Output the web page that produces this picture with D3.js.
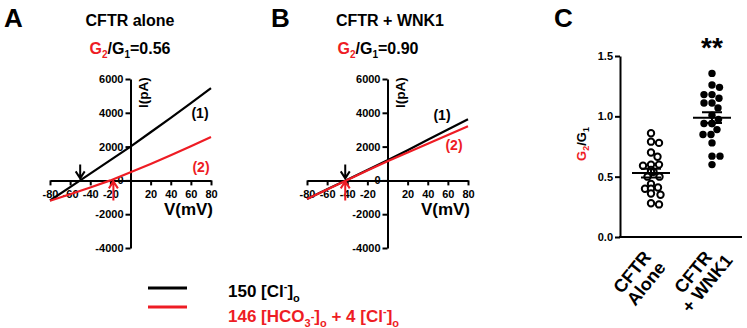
<!DOCTYPE html>
<html>
<head>
<meta charset="utf-8">
<script src="https://cdn.jsdelivr.net/npm/d3@7"></script>
<style>
  body { margin: 0; background: #fff; }
  svg { font-family: "Liberation Sans", Arial, sans-serif; font-weight: bold; }
</style>
</head>
<body>
<svg id="chart" width="747" height="328"></svg>
<script>
// voltage steps (mV) and currents (pA)
var voltage = [-80, -60, -40, -20, 0, 20, 40, 60, 80];
var aloneCl = [-1190, -400, 400, 1200, 2000, 2850, 3700, 4570, 5460];
var aloneHCO3 = [-1200, -820, -420, 0, 480, 970, 1490, 2020, 2570];
var wnkCl = [-1100, -530, 40, 620, 1190, 1790, 2400, 3010, 3620];
var wnkHCO3 = [-1100, -540, 20, 580, 1130, 1650, 2170, 2690, 3200];
// reversal potentials marked by arrows [black, red]
var revAlone = [-50, -17];
var revWNK = [-42, -42];

var ivYTicks = [-4000, -2000, 0, 2000, 4000, 6000];
var ivXTicks = [-80, -60, -40, -20, 20, 40, 60, 80];

// G2/G1 scatter
var categories = [["CFTR", "Alone"], ["CFTR", "+ WNK1"]];
var ratioAlone = [0.86, 0.79, 0.78, 0.70, 0.665, 0.60, 0.59, 0.60, 0.555, 0.54, 0.54,
                  0.50, 0.50, 0.44, 0.40, 0.41, 0.40, 0.35, 0.36, 0.27, 0.28];
var ratioWNK = [1.356, 1.24, 1.26, 1.18, 1.15, 1.18, 1.11, 1.11, 1.07, 1.01, 0.975,
                0.94, 0.94, 0.94, 0.89, 0.85, 0.85, 0.78, 0.67, 0.67, 0.60];
var ratioTicks = [0, 0.5, 1.0, 1.5];

var RED = "#ee1c24";
var svg = d3.select("#chart");

function boldText(g, x, y, size, txt, color, anchor) {
  return g.append("text").attr("x", x).attr("y", y)
    .attr("font-size", size).attr("fill", color || "#000")
    .attr("text-anchor", anchor || "start").text(txt);
}

function ratioTitle(x, y, val) {
  var t = svg.append("text").attr("x", x).attr("y", y)
    .attr("font-size", 16).attr("text-anchor", "middle");
  t.append("tspan").attr("fill", RED).text("G");
  t.append("tspan").attr("fill", RED).attr("font-size", 10).attr("dy", 4).text("2");
  t.append("tspan").attr("dy", -4).text("/G");
  t.append("tspan").attr("font-size", 10).attr("dy", 4).text("1");
  t.append("tspan").attr("dy", -4).text("=" + val);
}

function arrow(g, x, y0, y1, color) {
  // shaft from y0 to tip y1, open chevron head
  var dir = y1 > y0 ? -1 : 1;
  g.append("path")
    .attr("d", "M" + x + "," + y0 + "L" + x + "," + y1 +
      "M" + (x - 4.5) + "," + (y1 + dir * 7) + "L" + x + "," + y1 + "L" + (x + 4.5) + "," + (y1 + dir * 7))
    .attr("fill", "none").attr("stroke", color).attr("stroke-width", 2);
}

function styleAxis(a, size) {
  a.select(".domain").attr("stroke-width", 2);
  a.selectAll(".tick line").attr("stroke-width", 2);
  a.selectAll(".tick text").attr("font-size", size).attr("font-family", null).attr("fill", "#000");
}

function drawIV(opt) {
  var x = d3.scaleLinear().domain([-80, 80]).range(opt.xr);
  var y = d3.scaleLinear().domain([-4000, 6000]).range([248, 79]);
  var g = svg.append("g");

  var yAxis = d3.axisLeft(y).tickValues(ivYTicks).tickSize(5).tickSizeOuter(0).tickPadding(2)
    .tickFormat(function (d) { return String(d); });
  var ya = g.append("g").attr("transform", "translate(" + x(0) + ",0)").call(yAxis);
  var xAxis = d3.axisBottom(x).tickValues(ivXTicks).tickSize(5).tickSizeOuter(0).tickPadding(5)
    .tickFormat(function (d) { return String(d); });
  var xa = g.append("g").attr("transform", "translate(0," + y(0) + ")").call(xAxis);
  styleAxis(ya, 11);
  styleAxis(xa, 11);

  var line = d3.line().x(function (d, i) { return x(voltage[i]); }).y(function (d) { return y(d); });
  g.append("path").datum(opt.cl).attr("d", line)
    .attr("fill", "none").attr("stroke", "#000").attr("stroke-width", 2.2);
  g.append("path").datum(opt.hco3).attr("d", line)
    .attr("fill", "none").attr("stroke", RED).attr("stroke-width", 2.2);

  arrow(g, x(opt.rev[0]), y(0) - 16, y(0) - 2, "#000");
  arrow(g, x(opt.rev[1]), y(0) + 20, y(0) + 1, RED);

  g.append("text").attr("transform", "translate(" + (x(0) + 17) + ",108) rotate(-90)")
    .attr("font-size", 13.5).text("I(pA)");
  boldText(g, x(80) + 2, 215, 17, "V(mV)", "#000", "end");
  boldText(g, opt.l1[0], opt.l1[1], 14, "(1)", "#000", "middle");
  boldText(g, opt.l2[0], opt.l2[1], 14, "(2)", RED, "middle");
}

// panel A
boldText(svg, 4, 27, 26, "A");
boldText(svg, 130, 26, 16, "CFTR alone", "#000", "middle");
ratioTitle(130, 54, "0.56");
drawIV({ xr: [50, 211], cl: aloneCl, hco3: aloneHCO3, rev: revAlone, l1: [200, 118], l2: [201, 172] });

// panel B
boldText(svg, 271, 27, 26, "B");
boldText(svg, 390, 26, 16, "CFTR + WNK1", "#000", "middle");
ratioTitle(378, 54, "0.90");
drawIV({ xr: [307, 468], cl: wnkCl, hco3: wnkHCO3, rev: revWNK, l1: [442, 120], l2: [454, 150] });

// panel C
boldText(svg, 554, 27, 26, "C");
var cx = d3.scalePoint().domain([0, 1]).range([651, 712]);
var cy = d3.scaleLinear().domain([0, 1.5]).range([237, 56]);
var gc = svg.append("g");
var cya = gc.append("g").attr("transform", "translate(620,0)")
  .call(d3.axisLeft(cy).tickValues(ratioTicks).tickSize(5).tickSizeOuter(0).tickPadding(2)
    .tickFormat(d3.format(".1f")));
styleAxis(cya, 11);
gc.append("line").attr("x1", 619).attr("x2", 742).attr("y1", cy(0)).attr("y2", cy(0))
  .attr("stroke", "#000").attr("stroke-width", 2);

var yl = gc.append("text").attr("transform", "translate(586,144) rotate(-90)")
  .attr("font-size", 13).attr("text-anchor", "middle");
yl.append("tspan").attr("fill", RED).text("G");
yl.append("tspan").attr("fill", RED).attr("font-size", 9).attr("dy", 3).text("2");
yl.append("tspan").attr("dy", -3).text("/G");
yl.append("tspan").attr("font-size", 9).attr("dy", 3).text("1");

// simple beeswarm so the dots sit side by side like the original
function swarm(vals, r) {
  var placed = [];
  var order = vals.map(function (v, i) { return i; })
    .sort(function (a, b) { return vals[b] - vals[a]; });
  var off = new Array(vals.length);
  order.forEach(function (i) {
    var py = cy(vals[i]);
    var cand = [0];
    for (var k = 1; k < 20; k++) { cand.push(k * 0.5); cand.push(-k * 0.5); }
    for (var c = 0; c < cand.length; c++) {
      var ok = placed.every(function (p) {
        var dx = p[0] - cand[c], dy = p[1] - py;
        return dx * dx + dy * dy >= (2 * r) * (2 * r);
      });
      if (ok) { off[i] = cand[c]; placed.push([cand[c], py]); return; }
    }
    off[i] = 0;
  });
  return off;
}

[ratioAlone, ratioWNK].forEach(function (vals, gi) {
  var off = swarm(vals, 3.8);
  var mean = d3.mean(vals);
  var sem = d3.deviation(vals) / Math.sqrt(vals.length);
  var c = cx(gi);
  gc.selectAll(".pt" + gi).data(vals).enter().append("circle")
    .attr("cx", function (d, i) { return c + off[i]; })
    .attr("cy", function (d) { return cy(d); })
    .attr("r", gi === 0 ? 3.2 : 3.7)
    .attr("fill", gi === 0 ? "#fff" : "#000")
    .attr("stroke", "#000").attr("stroke-width", gi === 0 ? 2 : 0);
  gc.append("line").attr("x1", c - 19).attr("x2", c + 19).attr("y1", cy(mean)).attr("y2", cy(mean))
    .attr("stroke", "#000").attr("stroke-width", 2);
  gc.append("path")
    .attr("d", "M" + (c - 10) + "," + cy(mean + sem) + "H" + (c + 10) +
      "M" + c + "," + cy(mean + sem) + "V" + cy(mean - sem) +
      "M" + (c - 10) + "," + cy(mean - sem) + "H" + (c + 10))
    .attr("fill", "none").attr("stroke", "#000").attr("stroke-width", 2);

  // two-line category label, lines centred, rotated
  var lab = gc.append("g").attr("transform", "translate(" + (c - 19) + ",272) rotate(-51)");
  categories[gi].forEach(function (s, li) {
    lab.append("text").attr("x", 0).attr("y", li * 18).attr("dy", "0.35em")
      .attr("font-size", 18).attr("text-anchor", "middle").text(s);
  });
});
boldText(svg, cx(1), 57, 28, "**", "#000", "middle");

// legend
var lg = svg.append("g");
lg.append("line").attr("x1", 148).attr("x2", 187).attr("y1", 288).attr("y2", 288)
  .attr("stroke", "#000").attr("stroke-width", 3);
lg.append("line").attr("x1", 148).attr("x2", 187).attr("y1", 307).attr("y2", 307)
  .attr("stroke", RED).attr("stroke-width", 3);
function ion(t, parts) {
  parts.forEach(function (p) {
    var s = t.append("tspan").text(p[0]);
    if (p[1] === "sup") s.attr("font-size", 11).attr("dy", -7);
    if (p[1] === "sub") s.attr("font-size", 11).attr("dy", 5);
    if (p[1] === "back") s.attr("dy", p[2]);
  });
}
var t1 = lg.append("text").attr("x", 228).attr("y", 297).attr("font-size", 17);
ion(t1, [["150 [Cl"], ["-", "sup"], ["]", "back", 7], ["o", "sub"]]);
var t2 = lg.append("text").attr("x", 228).attr("y", 322).attr("font-size", 17).attr("fill", RED);
ion(t2, [["146 [HCO"], ["3", "sub"], ["-", "sup"], ["]", "back", 2], ["o", "sub"],
  [" + 4 [Cl", "back", -5], ["-", "sup"], ["]", "back", 7], ["o", "sub"]]);
</script>
</body>
</html>
